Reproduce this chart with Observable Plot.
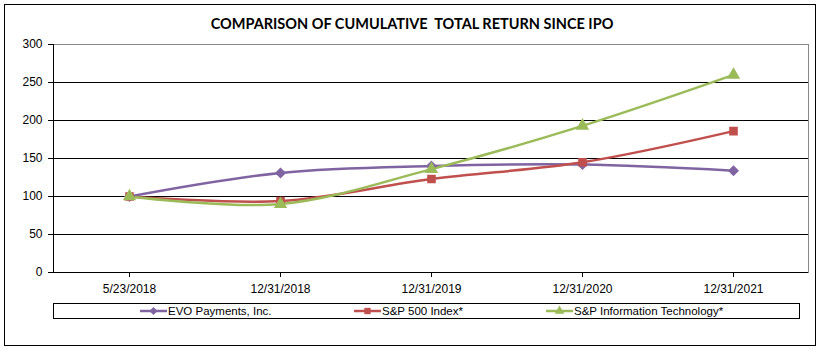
<!DOCTYPE html>
<html><head><meta charset="utf-8">
<script src="https://cdn.jsdelivr.net/npm/d3@7"></script>
<script src="https://cdn.jsdelivr.net/npm/@observablehq/plot@0.6"></script>
<style>
body{margin:0;background:#fff;}
#wrap{position:relative;width:824px;height:353px;overflow:hidden;background:#fff;font-family:"Liberation Sans",Arial,sans-serif;}
#border{position:absolute;left:4px;top:4px;width:812px;height:342px;border:1px solid #000;box-sizing:border-box;}
#title{position:absolute;left:0;width:824px;top:15px;text-align:center;font-family:Lato,"Open Sans",sans-serif;font-weight:bold;font-size:14.5px;color:#000;white-space:pre;}
#chart{position:absolute;left:0;top:34px;}
#legend{position:absolute;left:53px;top:303px;width:747px;height:16px;border:1px solid #000;box-sizing:border-box;font-size:11.5px;}
.item{position:absolute;top:0;height:14px;display:flex;align-items:center;white-space:nowrap;}
.item svg{display:block;margin-right:1px;}
</style></head>
<body><div id="wrap"><div id="border"></div><div id="title"></div><div id="chart"></div><div id="legend"></div></div>
<script>
const title = "COMPARISON OF CUMULATIVE  TOTAL RETURN SINCE IPO";
const dates = ["5/23/2018","12/31/2018","12/31/2019","12/31/2020","12/31/2021"];
const seriesNames = ["EVO Payments, Inc.","S&P 500 Index*","S&P Information Technology*"];
const evo = [100, 131, 140, 142, 134];
const sp500 = [100, 94, 123, 145, 186];
const spit = [100, 90, 136, 193, 260];
const yTicks = [0, 50, 100, 150, 200, 250, 300];
const colors = ["#8064A2", "#C0504D", "#9BBB59"];
const symbols = ["diamond2", "square", "triangle"];

document.getElementById("title").textContent = title;

const values = [evo, sp500, spit];
const data = [];
values.forEach((arr, s) => arr.forEach((v, i) => data.push({series: seriesNames[s], date: dates[i], value: v})));

const chart = Plot.plot({
  width: 824, height: 264,
  marginLeft: 53, marginRight: 16, marginTop: 10, marginBottom: 26,
  style: {fontFamily: "'Liberation Sans', Arial, sans-serif", fontSize: "12px", color: "#000", background: "transparent"},
  x: {type: "point", domain: dates, padding: 0.5, label: null},
  y: {domain: [0, 300], label: null},
  color: {domain: seriesNames, range: colors},
  symbol: {domain: seriesNames, range: symbols},
  marks: [
    Plot.frame({stroke: "#888"}),
    Plot.ruleY(yTicks.filter(d => d > 0 && d < 300), {stroke: "#000", strokeWidth: 1}),
    Plot.ruleY([0], {stroke: "#000"}),
    Plot.frame({anchor: "left", stroke: "#000"}),
    Plot.axisY({ticks: yTicks, tickSize: 5, tickPadding: 6, fontSize: 12, tickFormat: d => String(d), stroke: "#000", fill: "#000"}),
    Plot.axisX({tickSize: 5, tickPadding: 7, fontSize: 12, stroke: "#000", fill: "#000"}),
    Plot.line(data, {x: "date", y: "value", z: "series", stroke: "series", strokeWidth: 2.5, curve: "catmull-rom"}),
    Plot.dot(data, {x: "date", y: "value", symbol: "series", fill: "series", stroke: "series", r: 4})
  ]
});
document.getElementById("chart").appendChild(chart);

// legend
const legend = document.getElementById("legend");
const lx = [86, 300, 492];
const d3sym = {diamond2: "symbolDiamond2", square: "symbolSquare", triangle: "symbolTriangle"};
seriesNames.forEach((name, i) => {
  const div = document.createElement("div");
  div.className = "item";
  div.style.left = lx[i] + "px";
  const sym = d3.symbol(d3[d3sym[symbols[i]]], 40)();
  div.innerHTML = `<svg width="27" height="14"><line x1="0" x2="27" y1="7" y2="7" stroke="${colors[i]}" stroke-width="2.5"/><path transform="translate(13.5,7)" d="${sym}" fill="${colors[i]}"/></svg><span></span>`;
  div.querySelector("span").textContent = name;
  legend.appendChild(div);
});
</script></body></html>
